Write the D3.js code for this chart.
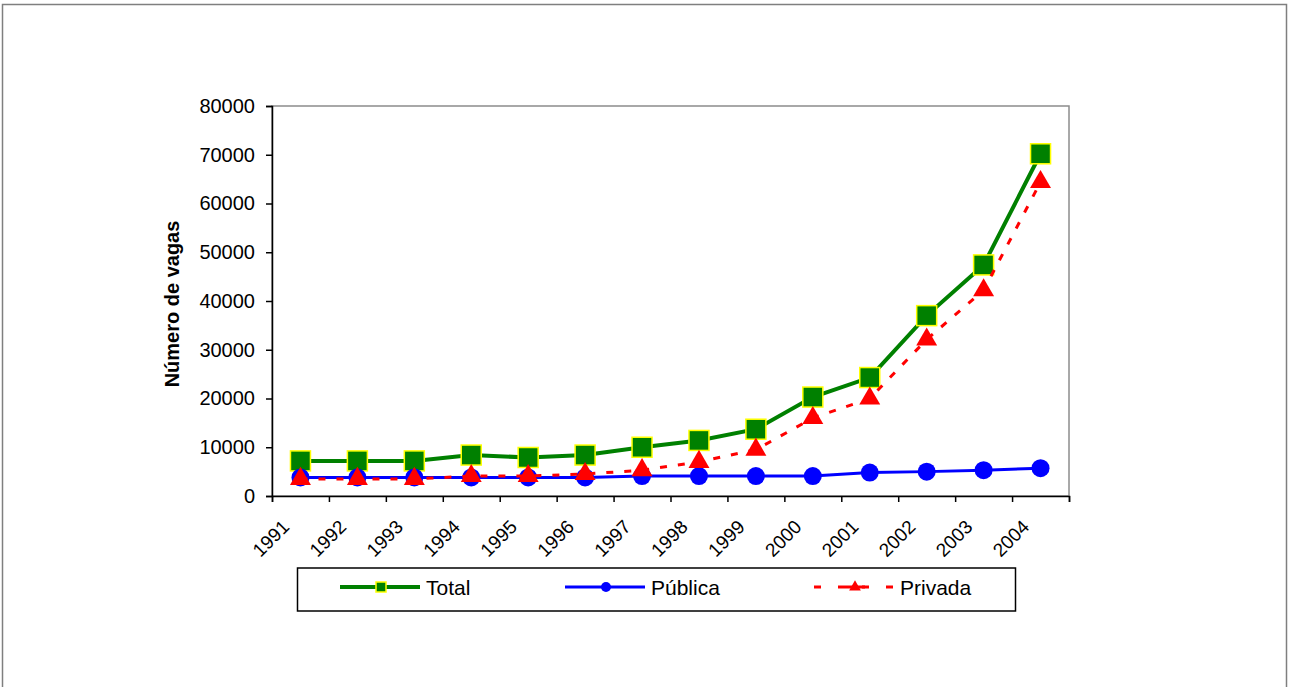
<!DOCTYPE html>
<html>
<head>
<meta charset="utf-8">
<script src="https://cdn.jsdelivr.net/npm/d3@7"></script>
<style>
  body { margin: 0; background: #fff; }
  svg text { font-family: "Liberation Sans", Arial, sans-serif; fill: #000; }
</style>
</head>
<body>
<svg id="chart" width="1289" height="687"></svg>
<script>
const years = ["1991","1992","1993","1994","1995","1996","1997","1998","1999","2000","2001","2002","2003","2004"]
const total   = [7200, 7200, 7200, 8400, 7900, 8400, 10000, 11400, 13700, 20300, 24300, 37000, 47400, 70200]
const publica = [3800, 3800, 3800, 3800, 3800, 3800, 4100, 4100, 4100, 4100, 4800, 5000, 5300, 5700]
const privada = [3500, 3500, 3500, 4100, 4100, 4500, 5300, 7000, 9500, 16000, 20000, 32100, 42200, 64400]
const yTicks = [0, 10000, 20000, 30000, 40000, 50000, 60000, 70000, 80000]

const svg = d3.select('#chart')

// chart area frame
svg.append("rect")
    .attr("x", 2.5).attr("y", 4.5)
    .attr("width", 1284).attr("height", 720)
    .attr("fill", "#fff")
    .attr("stroke", "#7f7f7f")
    .attr("stroke-width", 1.5)

const plot = {left: 272, right: 1069, top: 106, bottom: 496}

const x = d3.scaleBand().domain(years).range([plot.left, plot.right])
const xEdge = d3.scaleLinear().domain([0, years.length]).range([plot.left, plot.right])
const y = d3.scaleLinear().domain([0, 80000]).range([plot.bottom, plot.top])

// plot area border (grey top/right)
svg.append("rect")
    .attr("x", plot.left).attr("y", plot.top)
    .attr("width", plot.right - plot.left).attr("height", plot.bottom - plot.top)
    .attr("fill", "none")
    .attr("stroke", "#8c8c8c")
    .attr("stroke-width", 1.5)

// y axis
const yAxis = svg.append("g")
    .attr("transform", `translate(${plot.left},0)`)
    .call(d3.axisLeft(y).tickValues(yTicks).tickSize(6).tickPadding(11).tickFormat(d3.format("d")))
yAxis.selectAll("text").style("font-size", "20px")
yAxis.selectAll("line,path").attr("stroke", "#000").attr("stroke-width", 1.5)

// x axis: ticks at category edges
const xAxis = svg.append("g")
    .attr("transform", `translate(0,${plot.bottom})`)
    .call(d3.axisBottom(xEdge).tickValues(d3.range(years.length + 1)).tickSize(6).tickFormat(""))
xAxis.selectAll("line,path").attr("stroke", "#000").attr("stroke-width", 1.5)

svg.append("g").selectAll("text")
    .data(years).enter().append("text")
    .attr("transform", d => `translate(${x(d) + x.bandwidth() / 2 - 10},${plot.bottom + 32}) rotate(-45)`)
    .attr("text-anchor", "end")
    .style("font-size", "19px")
    .text(d => d)

svg.append("text")
    .attr("transform", `translate(179,${(plot.top + plot.bottom) / 2 + 3}) rotate(-90)`)
    .attr("text-anchor", "middle")
    .style("font-size", "20px")
    .style("font-weight", "bold")
    .text("Número de vagas")

const cx = (d, i) => x(years[i]) + x.bandwidth() / 2
const line = d3.line().x((d, i) => cx(d, i)).y(d => y(d))

// Total
svg.append("path").datum(total)
    .attr("d", line).attr("fill", "none")
    .attr("stroke", "#008000").attr("stroke-width", 4)
svg.append("g").selectAll("rect")
    .data(total).enter().append("rect")
    .attr("x", (d, i) => cx(d, i) - 10).attr("y", d => y(d) - 10)
    .attr("width", 20).attr("height", 20)
    .attr("fill", "#008000").attr("stroke", "#ffff00").attr("stroke-width", 1.5)

// Pública
svg.append("path").datum(publica)
    .attr("d", line).attr("fill", "none")
    .attr("stroke", "#0000ff").attr("stroke-width", 3)
svg.append("g").selectAll("circle")
    .data(publica).enter().append("circle")
    .attr("cx", (d, i) => cx(d, i)).attr("cy", d => y(d))
    .attr("r", 9).attr("fill", "#0000ff")

// Privada
const tri = d3.symbol().type(d3.symbolTriangle).size(190)
svg.append("path").datum(privada)
    .attr("d", line).attr("fill", "none")
    .attr("stroke", "#ff0000").attr("stroke-width", 3)
    .attr("stroke-dasharray", "7,11")
svg.append("g").selectAll("path")
    .data(privada).enter().append("path")
    .attr("d", tri)
    .attr("transform", (d, i) => `translate(${cx(d, i)},${y(d)})`)
    .attr("fill", "#ff0000")

// legend
const legend = svg.append("g")
legend.append("rect")
    .attr("x", 297.5).attr("y", 568).attr("width", 718).attr("height", 43)
    .attr("fill", "#fff").attr("stroke", "#000").attr("stroke-width", 1.5)

const legendItems = [
  {name: "Total", x0: 340, color: "#008000", w: 4, dash: null, mark: "square"},
  {name: "Pública", x0: 565, color: "#0000ff", w: 3, dash: null, mark: "circle"},
  {name: "Privada", x0: 814, color: "#ff0000", w: 3, dash: "7,17", mark: "triangle"}
]
const ly = 587
legendItems.forEach(it => {
  const g = legend.append("g")
  g.append("line")
      .attr("x1", it.x0).attr("x2", it.x0 + 80).attr("y1", ly).attr("y2", ly)
      .attr("stroke", it.color).attr("stroke-width", it.w)
      .attr("stroke-dasharray", it.dash)
  const mx = it.x0 + 41
  if (it.mark === "square") {
    g.append("rect").attr("x", mx - 5).attr("y", ly - 5).attr("width", 10).attr("height", 10)
        .attr("fill", "#008000").attr("stroke", "#ffff00").attr("stroke-width", 1.5)
  } else if (it.mark === "circle") {
    g.append("circle").attr("cx", mx).attr("cy", ly).attr("r", 5).attr("fill", it.color)
  } else {
    g.append("line").attr("x1", mx - 10).attr("x2", mx + 10).attr("y1", ly).attr("y2", ly)
        .attr("stroke", it.color).attr("stroke-width", it.w)
    g.append("path").attr("d", d3.symbol().type(d3.symbolTriangle).size(60))
        .attr("transform", `translate(${mx},${ly})`).attr("fill", it.color)
  }
  g.append("text")
      .attr("x", it.x0 + 86).attr("y", ly).attr("dy", "0.36em")
      .style("font-size", "21px")
      .text(it.name)
})
</script>
</body>
</html>
